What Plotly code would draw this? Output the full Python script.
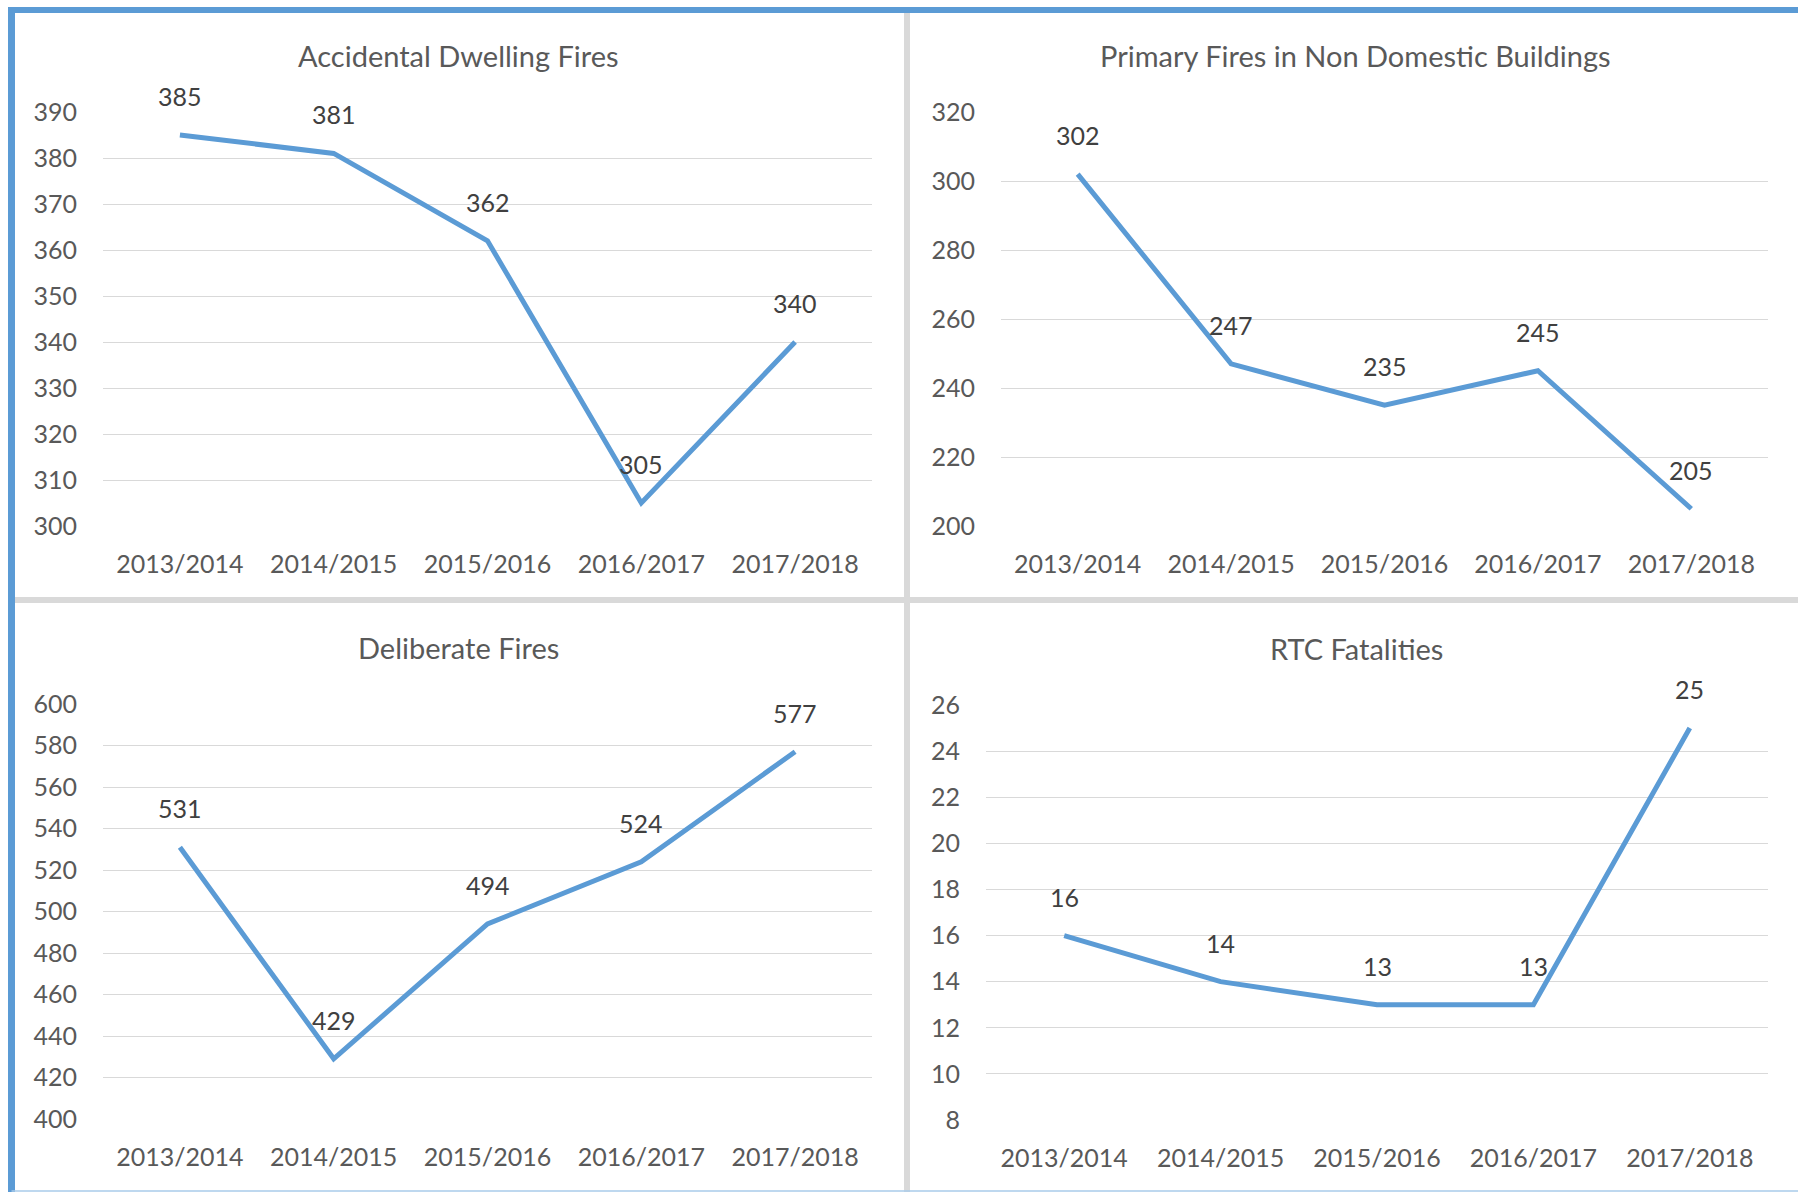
import plotly.graph_objects as go

# the page's body margin is removed by a post script, so pixels map 1:1
OFF = 0
W, H = 1798, 1192

categories = ["2013/2014", "2014/2015", "2015/2016", "2016/2017", "2017/2018"]

accidental_dwelling = [385, 381, 362, 305, 340]
non_domestic = [302, 247, 235, 245, 205]
deliberate = [531, 429, 494, 524, 577]
rtc_fatalities = [16, 14, 13, 13, 25]

titles = ["Accidental Dwelling Fires", "Primary Fires in Non Domestic Buildings",
          "Deliberate Fires", "RTC Fatalities"]
series = [accidental_dwelling, non_domestic, deliberate, rtc_fatalities]
y_ranges = [(300, 390, 10), (200, 320, 20), (400, 600, 20), (8, 26, 2)]

LINE = "#5B9BD5"
TEXT = "#595959"
GRID = "#D9D9D9"
FONT = "Lato"
FS = 25
TFS = 29


def px(x):
    return (x - OFF) / W


def py(y):
    return 1 - (y - OFF) / H


# panel plot areas in screen pixels: (x0, x1, ytop, ybottom)
areas = [(103, 872, 112, 526), (1001, 1768, 112, 526),
         (103, 872, 704, 1119), (986, 1768, 705, 1120)]
title_pos = [(459, 55), (1355, 55), (459, 647), (1356, 648)]

fig = go.Figure()
layout = dict(width=W, height=H, margin=dict(l=0, r=0, t=0, b=0, pad=0, autoexpand=False),
              paper_bgcolor="white", plot_bgcolor="white", showlegend=False,
              font=dict(family=FONT, size=FS, color=TEXT))
annotations = []
for i, (vals, (lo, hi, dt), (x0, x1, yt, yb)) in enumerate(zip(series, y_ranges, areas)):
    n = "" if i == 0 else str(i + 1)
    xa, ya = "x" + n, "y" + n
    fig.add_trace(go.Scatter(x=categories, y=vals, mode="lines",
                             line=dict(color=LINE, width=5),
                             xaxis=xa, yaxis=ya, hoverinfo="skip"))
    layout["xaxis" + n] = dict(domain=[px(x0), px(x1)], anchor=ya, showgrid=False,
                               range=[-0.5, len(categories) - 0.5],
                               zeroline=False, showline=False, ticks="", automargin=False,
                               tickfont=dict(size=FS, color=TEXT, family=FONT),
                               ticklabelstandoff=21, fixedrange=True)
    layout["yaxis" + n] = dict(domain=[py(yb), py(yt)], anchor=xa,
                               range=[lo, hi], dtick=dt, tick0=lo, automargin=False,
                               showgrid=True, gridcolor=GRID, gridwidth=1.3,
                               zeroline=False, showline=False, ticks="",
                               tickfont=dict(size=FS, color=TEXT, family=FONT),
                               ticklabelstandoff=25, fixedrange=True)
    for c, v in zip(categories, vals):
        annotations.append(dict(x=c, y=v, xref=xa, yref=ya, text=str(v), showarrow=False,
                                yshift=39, font=dict(size=FS, color="#404040", family=FONT)))
    tx, ty = title_pos[i]
    annotations.append(dict(x=px(tx), y=py(ty), xref="paper", yref="paper",
                            text=titles[i], showarrow=False, xanchor="center", yanchor="middle",
                            font=dict(size=TFS, color=TEXT, family=FONT)))

shapes = [
    # grey dividers
    dict(type="line", xref="paper", yref="paper", x0=px(907), x1=px(907), y0=0, y1=py(12),
         line=dict(color=GRID, width=6)),
    dict(type="line", xref="paper", yref="paper", x0=px(14), x1=1, y0=py(600), y1=py(600),
         line=dict(color=GRID, width=6)),
    # blue frame
    dict(type="line", xref="paper", yref="paper", x0=px(8), x1=1, y0=py(10), y1=py(10),
         line=dict(color=LINE, width=6)),
    dict(type="line", xref="paper", yref="paper", x0=px(11.5), x1=px(11.5), y0=0, y1=py(7),
         line=dict(color=LINE, width=7)),
    dict(type="line", xref="paper", yref="paper", x0=px(11.5), x1=1, y0=py(1191), y1=py(1191),
         line=dict(color="#A9CBEA", width=1.5)),
]
layout["annotations"] = annotations
layout["shapes"] = shapes
fig.update_layout(**layout)
fig.write_html("out.html", config={"displayModeBar": False},
               post_script="document.body.style.margin='0';document.body.style.overflow='hidden';")
